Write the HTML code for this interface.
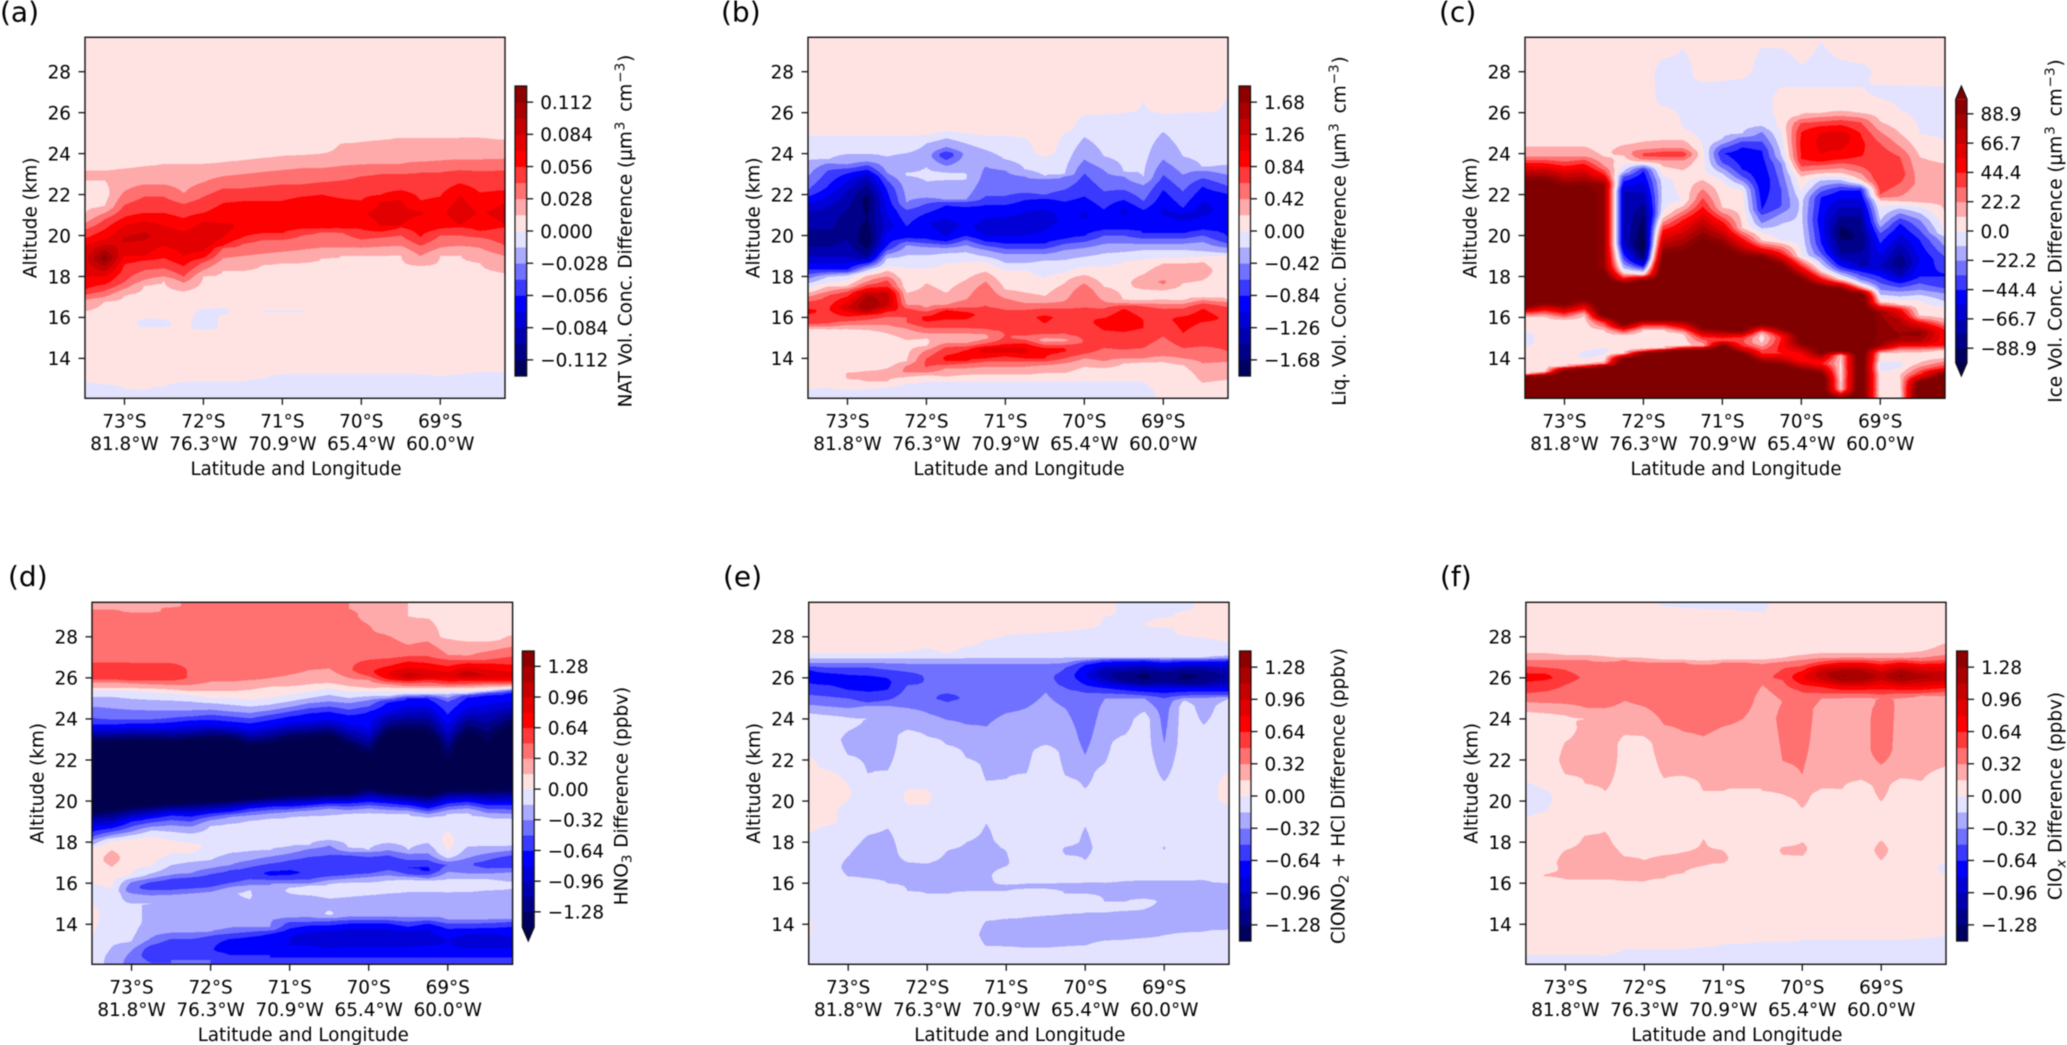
<!DOCTYPE html>
<html lang="en">
<head>
<meta charset="utf-8">
<title>Six-panel altitude and latitude contour difference chart</title>
<style>
html,body{margin:0;padding:0;background:#fff;}
svg{display:block;font-family:"DejaVu Sans","Liberation Sans",sans-serif;fill:#000;filter:blur(0.45px);}
text{font-size:18.4px;}
</style>
</head>
<body>
<svg id="figure" xmlns="http://www.w3.org/2000/svg" width="2067" height="1045" viewBox="0 0 2067 1045">
<rect x="0" y="0" width="2067" height="1045" fill="#ffffff"/>
<g id="panel-a"></g>
<g id="panel-b"></g>
<g id="panel-c"></g>
<g id="panel-d"></g>
<g id="panel-e"></g>
<g id="panel-f"></g>
</svg>
<script>
/* Shared axis values */
const columnLatitudes = [73.5,73.25,73,72.75,72.5,72.25,72,71.75,71.5,71.25,71,70.75,70.5,70.25,70,69.75,69.5,69.25,69,68.75,68.5,68.18];
const latTicks = [73,72,71,70,69];
const lonLabels = ['81.8°W','76.3°W','70.9°W','65.4°W','60.0°W'];
const altTicks = [14,16,18,20,22,24,26,28];

/* Colour-bar tick labels */
const natTicks = ['0.112','0.084','0.056','0.028','0.000','−0.028','−0.056','−0.084','−0.112'];
const liqTicks = ['1.68','1.26','0.84','0.42','0.00','−0.42','−0.84','−1.26','−1.68'];
const iceTicks = ['88.9','66.7','44.4','22.2','0.0','−22.2','−44.4','−66.7','−88.9'];
const ppbvTicks = ['1.28','0.96','0.64','0.32','0.00','−0.32','−0.64','−0.96','−1.28'];

/* Each series: one list per latitude column of altitude,value pairs.
   Values are read from the picture, in units of the panel's contour interval. */
const natProfiles = [
[23.4,.5,23.2,1,23,1.2,22.7,1,22,.6,21,1,20.6,2,20.3,3,19.85,4,19.5,5,18.9,5.7,18,5,17.35,4,17.1,3,16.85,2,16.3,1,16,.5,12.8,0,12,-.6],
[23.4,.5,23.2,1,23,1.2,22.7,1,22,.6,21.4,1,21.1,2,20.8,3,20.3,4,19.8,5,18.9,8.6,18,5,17.6,4,17.3,3,17,2,16.8,1,16,.5,12.7,0,12,-.6],
[23.5,.5,23.3,1,22.15,2,21.5,3,20.9,4,20.5,5,19.8,6.2,19,5,18.6,4,17.7,3,17.4,2,17.1,1,16,.5,12.5,0,12,-.5],
[23.6,.5,23.4,1,22.5,2,21.9,3,21.1,4,20.7,5,20,6.3,19,5,18.8,4,18.3,3,17.8,2,17.6,1,16.2,.4,15.7,-.4,15.3,.4,12.4,0,12,-.5],
[23.7,.5,23.5,1,22.5,2,21.9,3,21.1,4,20.5,5,20,5.5,19.5,5,18.9,4,18.4,3,18,2,17.8,1,16.2,.4,15.7,-.3,15.3,.4,12.6,0,12,-.5],
[23.7,.5,23.5,1,22.05,2,21.55,3,20.85,4,20.2,5,19.8,5.7,19,5,18.5,4,18,3,17.7,2,17.3,1,15.6,.3,12.8,0,12,-.5],
[23.7,.5,23.5,1,22.6,2,21.9,3,21.1,4,20.7,5,19.8,6,19.2,5,18.9,4,18.7,3,18.3,2,18,1,16.6,.4,16.2,-.5,15.5,-.5,15.3,.4,12.85,0,12,-.5],
[23.8,.5,23.6,1,22.9,2,22.3,3,21.6,4,20.6,5,20.4,5.5,19.9,5,19.5,4,19.4,3,18.9,2,18.3,1,16.6,.4,16.35,-.3,16,.2,12.85,0,12,-.5],
[23.9,.5,23.7,1,23,2,22.3,3,21.7,4,20.6,4.9,19.9,4,19.6,3,19,2,18.3,1,16.5,.4,12.85,0,12,-.5],
[24,.5,23.8,1,23.1,2,22.4,3,21.7,4,20.8,4.8,20.1,4,19.8,3,19.1,2,18.6,1,16.5,.4,16.3,-.2,16.1,.4,13,0,12,-.5],
[24.1,.5,23.9,1,23.2,2,22.5,3,21.7,4,21,4.8,20.1,4,19.8,3,19.2,2,18.65,1,16.5,.4,16.3,-.2,16.1,.4,13.2,0,12,-.5],
[24.15,.5,23.95,1,23.3,2,22.5,3,21.9,4,21.2,5.05,20.3,4,20,3,19.3,2,18.7,1,16.5,.4,16.3,-.2,16.1,.4,13.2,0,12,-.5],
[24.2,.5,24,1,23.3,2,22.6,3,22,4,21.1,4.9,20.3,4,20.2,3,19.4,2,18.9,1,16,.4,13.2,0,12,-.5],
[24.7,.5,24.5,1,23.4,2,22.7,3,21.8,4,21.1,4.8,20.3,4,20.15,3,19.4,2,19,1,16,.4,13.2,0,12,-.5],
[24.8,.5,24.6,1,23.45,2,22.9,3,21.7,4,21.1,4.9,20.3,4,19.8,3,19.4,2,19,1,16,.4,13.2,0,12,-.5],
[24.9,.5,24.7,1,23.5,2,23,3,22,4,21.7,5,21,5.4,20.4,5,20.2,4,19.9,3,19.45,2,19.05,1,16,.4,13.2,0,12,-.5],
[25,.5,24.8,1,23.5,2,23,3,22.2,4,21.8,5,21.1,5.3,20.5,5,20.4,4,20,3,19.5,2,19.1,1,16,.4,13.2,0,12,-.5],
[24.95,.5,24.75,1,23.6,2,23.1,3,21.7,4,21.1,5.1,19.9,4,19.5,3,19,2,18.5,1,16,.4,13.2,0,12,-.5],
[24.95,.5,24.75,1,23.65,2,23.1,3,21.9,4,21.1,4.8,20.3,4,20,3,19.4,2,19,1,16,.4,13.1,0,12,-.5],
[25,.5,24.8,1,23.7,2,23.2,3,22.55,4,22,5,21.1,5.7,20.5,5,20.4,4,20,3,19.5,2,19.1,1,16,.4,13.2,0,12,-.5],
[25,.5,24.8,1,23.7,2,23.15,3,22.1,4,21.1,4.9,20.2,4,19.9,3,19.4,2,18.7,1,16,.4,13.3,0,12,-.5],
[24.9,.5,24.7,1,23.75,2,23.2,3,22.2,4,21.6,5,21.1,5.4,20.5,5,20.4,4,19.5,3,19,2,18.2,1,16,.4,13.3,0,12,-.5]
];

const liqProfiles = [
[25.1,.5,24.9,0,23.66,-1,22.88,-2,22.23,-3,21.9,-4,21,-6.5,19.7,-7.5,18.97,-6,18.32,-4,17.67,-1,17.43,0,17.18,1,17.02,2,16.78,3,16.3,4.3,15.64,3,15.47,1,15.3,.4,13,.4,12.5,0,12,-.6],
[25.1,.5,24.9,0,23.69,-1,23.53,-2,23.2,-3,22.39,-4,21.41,-6,19.7,-7.5,18.97,-6,18.32,-4,17.99,-1,17.67,0,17.51,1,17.26,2,17.1,3,16.4,3.9,15.64,3,15.47,1,15.2,.4,13.6,.4,12.55,0,12,-.6],
[25.1,.5,24.9,0,23.98,-1,23.45,-2,23.28,-3,23.04,-4,22.23,-6,20.8,-7.5,19.8,-7,18.97,-6,18.3,-4,18.08,-1,17.83,0,17.51,1,17.43,2,17.26,3,17.02,4,16.5,6,16.04,4,15.8,3,15.47,1,15,.4,13.5,.4,13.35,1,13.2,1.1,12.95,1,12.8,.4,12.45,0,12,-.6],
[25.1,.5,24.9,0,23.98,-1,23.6,-2,23.45,-3,23.2,-4,22.88,-6,21.8,-8.5,20.8,-8,19.7,-9,18.97,-7,18.73,-5,18.65,-4,18.32,-1,18.16,0,18.08,1,17.75,2,17.59,3,17.43,4,17.1,7,16.55,8.2,16.2,6,16.12,4,15.88,3,15.39,1,15.2,.4,13.6,.4,13.4,1,13.1,1.2,12.85,1,12.7,.4,12.5,0,12,-.6],
[25.1,.5,24.9,0,23.85,-1,23.04,-2,22.71,-3,22.23,-4,21.09,-5,20.5,-5.5,19.9,-4.6,19.46,-4,18.89,-1,18.48,0,18.29,1,18,2,17.83,3,17.5,4,17.18,6.5,16.6,6.5,16.29,4,16.04,3,15.23,1,14.9,.4,13.7,.4,13.52,1,13.2,1.3,12.87,1,12.7,.4,12.6,0,12,-.6],
[25.1,.5,24.9,0,24.02,-1,23.5,-1.8,23.2,-1.2,23,-.9,22.5,-1.5,21.57,-2,21.25,-3,20.44,-4,20.2,-4.5,19.87,-4,19.7,-3,19.54,-2,19.05,-1,18.4,0,17.5,.4,17.2,1,16.61,2,16.45,3,16.3,3.7,16,3,15.7,3,15.47,2,14.9,1,14.5,.7,13.85,1,13.68,2,13.4,2.3,13.28,2,13.1,1,12.9,.4,12.8,0,12,-.6],
[25.1,.5,24.9,0,24.5,-1,23.8,-1.4,23.37,-1,23,-.85,22.63,-1,21.82,-2,21.57,-3,21.09,-4,20.6,-5,19.8,-4,19.62,-3,19.46,-2,19.05,-1,18.4,0,18,.5,17.67,1,16.45,2,16.29,3,15.96,4.5,15.47,3,15.23,2,14.99,1,14.8,.8,14.58,1,14.42,2,14,3,13.8,3.2,13.52,3,13.28,2,13.2,1,13,.4,12.87,0,12,-.6],
[25.3,.5,25.1,0,24.75,-1,24.3,-2,24.1,-3,23.95,-4.2,23.7,-3,23.4,-2,23.1,-1,22.9,-.8,22.7,-1,21.74,-2,21.66,-3,21.49,-4,20.84,-5,20.4,-5.6,19.95,-5,19.7,-4,19.55,-3,19.4,-2,19.13,-1,18.65,0,17.18,1,16.61,2,16.45,3,16.37,4,16.2,4.7,15.9,4,15.47,3,15.23,2,14.9,1.5,14.74,2,14.58,3,14.17,4,14,4.2,13.85,4,13.68,3,13.52,2,13.1,1,13,.4,12.87,0,12,-.6],
[25.2,.5,25,0,24.5,-1,24,-1.7,23.3,-1.3,22.95,-.9,22.7,-1,21.74,-2,21.66,-3,21.41,-4,20.5,-4.8,19.95,-4,19.79,-3,19.54,-2,19.2,-1,18.73,0,17.83,1,16.86,2,16.45,3,16.29,4,16.1,4.3,15.9,4,15.47,3,15.23,2,14.9,1.4,14.74,2,14.58,3,14.42,4,14.1,4.4,13.85,4,13.76,3,13.52,2,13.2,1,13,.4,12.87,0,12,-.6],
[25.1,.5,24.9,0,24.18,-1,23.37,-2,21.9,-3,21.49,-4,20.84,-5,20.3,-5.5,20,-5,19.7,-4,19.5,-3,19.3,-2,18.97,-1,18.73,0,18.24,1,17.75,2,17.3,2.7,16.53,3,16.2,3.8,15.39,3,15.23,2,15,1.8,14.8,2.5,14.74,3,14.58,4,14.5,5,14.4,5.6,14.25,5,14,4,13.85,3,13.6,2,13.2,1,13,.4,12.87,0,12,-.6],
[25.1,.5,24.9,0,23.7,-1,23.2,-2,21.9,-3,21.49,-4,20.92,-5,20.4,-5.5,20,-5,19.6,-4,19.35,-3,19.1,-2,18.65,-1,18.32,0,17.7,.6,17.34,1,16.94,2,16.37,3,16.2,3.7,15.07,3,14.66,4,14.58,5,14.4,5.6,14.29,5,14.1,4,13.85,3,13.6,2,13.2,1,13,.4,12.87,0,12,-.6],
[25,.5,24.8,0,23.2,-1,22.88,-2,22.06,-3,21.74,-4,21.17,-5,20.5,-5.6,20,-5,19.6,-4,19.35,-3,19.1,-2,18.65,-1,18.32,0,17.7,.6,17.18,1,16.7,2,16.37,3,16.1,3.7,15.1,3,15,2.5,14.74,4,14.5,5,14.35,5.2,14.2,5,14,4,13.85,3,13.6,2,13.2,1,13,.4,12.87,0,12,-.6],
[24.05,.5,23.85,0,22.88,-1,22.8,-2,21.98,-3,21.82,-4,21,-5.5,20.2,-5,19.6,-4,19.35,-3,19.1,-2,18.81,-1,17.9,0,17.5,.6,17.02,1,16.7,2,16.45,3,16,4.3,15.7,4,15.15,3,14.9,1.4,14.66,3,14.5,4,14.3,4.2,14,4,13.85,3,13.68,2,13.28,1,13,.4,12.87,0,12,-.6],
[25.2,.5,25,0,22.96,-1,22.88,-2,22.23,-3,21.66,-4,20.7,-4.9,19.8,-4,19.6,-3,19.3,-2,18.81,-1,18.16,0,18,.7,17.67,1,16.78,2,16.45,3,16,3.6,15.15,3,14.9,1.6,14.66,3,14.5,4,14.3,4.1,14,3,13.76,2,13.28,1,13,.4,12.87,0,12,-.6],
[26.1,.5,25.9,0,24.8,-1,23.7,-2,23.04,-3,21.9,-4,21,-5.2,19.95,-4,19.7,-3,19.4,-2,18.97,-1,18.48,0,18.08,1,17.67,2,17.3,2.7,16.45,3,16,3.8,15,3.2,14.8,3,14.5,3.6,14.2,3,14,2,13.6,1,13.2,.4,12.87,0,12,-.6],
[26.2,.5,25.97,0,23.85,-1,23.2,-2,22.15,-3,21.25,-4,20.8,-4.6,20.27,-4,20,-3,19.6,-2,19.13,-1,18.48,0,18,.5,17.5,1,16.78,2,16.45,3,15.96,4,15.8,4.5,15.2,3.8,14.5,3,13.85,2,13.52,1,13.2,.4,12.87,0,12,-.6],
[26.2,.5,26,0,23.1,-1,22.88,-2,22.23,-3,21.74,-4,21.2,-5.3,20.27,-4,20,-3,19.6,-2,19.2,-1,18.73,0,18,.6,16.78,1,16.7,2,16.6,3,16.45,4,15.9,4.9,15.3,4,14.4,3,14,2,13.75,1,13.3,.4,12.87,0,12,-.6],
[26.8,.5,26.6,0,22.8,-1,22.47,-2,21.66,-3,21.25,-4,20.9,-4.3,20.1,-4,19.85,-3,19.6,-2,19.3,-1,18.8,0,18.5,.7,18.1,1,17.7,1.6,17.2,.7,16.78,1,16.6,3,15.9,4,15.5,4,14.5,3,14,2,13.85,1,13.4,.4,12.87,0,12,-.2],
[26.2,.5,25.97,0,25.07,-1,23.7,-2,22.96,-3,22.23,-4,21.2,-5.2,20.1,-4,19.85,-3,19.6,-2,19.3,-1,18.9,0,18.65,1,18,1.6,17.7,2.3,17.34,1,17.1,.6,16.85,1,16.65,2,16.45,3,16,3.8,15.07,3,14.1,2,13.85,1,13.3,.4,12.5,.1,12,.1],
[26.2,.5,26,0,23.85,-1,22.96,-2,22.15,-3,21.33,-4,21,-5.5,20.1,-4,19.85,-3,19.6,-2,19.3,-1,18.9,0,18.65,1,18.2,1.5,17.67,1,17.2,.6,16.78,1,16.7,2,16.45,3,16.04,4,15.9,4.4,15.23,4,14.5,3,14,2,13.7,1,13.2,.4,12,.2],
[26.2,.5,26,0,23.3,-1,23.2,-2,22.8,-3,22.39,-4,21.3,-5.5,20.27,-4,20,-3,19.7,-2,19.22,-1,18.97,0,18.73,1,18.3,1.5,17.83,1,17.2,.6,16.94,1,16.86,2,16.7,3,16.45,4,16,4.6,15.8,4,14.58,3,13.76,2,12.8,1,12.4,.5,12,.5],
[27,.5,26.8,0,23.4,-1,22.96,-2,22.4,-3,22.06,-4,21,-4.6,19.87,-4,19.6,-3,19.4,-2,19.13,-1,19.05,0,18,.4,16.85,1,16.75,2,16.53,3,15.9,3.8,14.34,3,13.85,2,12.95,1,12.6,.5,12,.4]
];

const iceProfiles = [
[24.55,.5,24.35,1,23.85,2,23.69,3,23.53,4,22.7,9,22.2,11,17,11,16.5,9,16.25,4,16.05,1,15.8,.5,15.35,.3,15.2,-.4,14.7,-.4,14.5,.3,13.3,.4,13.2,1,13.11,9,13,11,12,11],
[24.55,.5,24.35,1,23.85,2,23.69,3,23.53,4,22.75,9,22.3,11,17.3,11,16.7,9,16.35,4,16.04,1,15.8,.5,13.4,.5,13.28,1,13.2,9,13.1,11,12,11],
[24.55,.5,24.35,1,23.85,2,23.6,3,23.4,4,22.4,9,22,11,17.3,11,16.6,9,16.2,4,15.88,1,15.6,.5,13.8,.5,13.6,1,13.44,9,13.3,11,12,11],
[24.55,.5,24.35,1,23.85,2,23.7,3,23.5,4,22.47,9,22,11,17.5,11,16.86,9,16.4,4,16.12,1,15.8,.5,14.6,.3,14.1,-.3,13.9,.3,13.68,1,13.52,9,13.35,11,12,11],
[24.2,.5,23.85,1,23.4,2,23,4,22.5,8,18.5,8,17.8,11,16.2,11,16.04,9,15.8,4,15.39,1,15.1,.5,14.6,.3,14.4,-.3,14,.3,13.77,1,13.6,9,13.4,11,12,11],
[24.6,.5,24.42,1,24.1,1.7,23.93,1,23.6,.5,23.12,-1,22.88,-3,22.2,-6,19.6,-6,18.81,-3,18.4,-1,18.24,0,17.91,4,17.67,9,17.3,11,15.9,11,15.64,9,15.39,4,15.15,1,15,.5,14.5,.3,14.25,1,14.01,9,13.8,11,12,11],
[24.8,.5,24.59,1,24.18,2,24.02,3,23.97,3.2,23.85,3,23.69,2,23.6,1,23.55,0,23.45,-1,23.2,-4,21,-8,19.5,-9.5,18.9,-8,18.48,-4,18.24,-1,18.13,0,18.08,1,17.83,9,17.5,11,16.2,11,15.88,9,15.64,4,15.39,1,15.2,.5,14.6,.5,14.42,1,14.25,9,14,11,12,11],
[28.9,.3,28.65,0,28,-.4,26.6,-.3,26.3,0,25.8,.4,24.85,.5,24.67,1,24.26,2,24.1,3,23.97,3.7,23.83,3,23.7,2,23.37,1,23,.3,22.7,-.5,21.9,-.6,21.1,0,20.85,1,20.27,4,19.13,9,18.6,11,16.2,11,15.88,9,15.64,4,15.39,1,15.2,.5,14.7,.5,14.5,1,14.34,9,14.1,11,12,11],
[29.4,.3,29.14,0,28,-.4,25.24,0,24.9,.4,24.67,1,24.26,2,24.1,3,23.97,3.8,23.83,3,23.69,2,23.2,1,22.7,.5,22,.2,21.74,0,21.41,1,20.76,4,19.22,9,18.7,11,16.2,11,15.88,9,15.47,4,15.23,1,15.05,.5,14.7,.5,14.58,1,14.42,9,14.2,11,12,11],
[27.8,.4,27.5,0,26,-.4,25,-.3,24.35,0,24,.3,23.1,.3,22.7,1,21.41,4,19.87,9,19.3,11,16.2,11,15.47,9,15.07,4,14.6,1,14.45,9,14.2,11,12,11],
[27.9,.4,27.6,0,26,-.4,24.67,-1,24.26,-3,24.02,-4,23.53,-3,23.04,-1,22.71,0,22.3,.4,21.9,.6,21.33,1,20.68,4,19.54,9,19,11,16,11,15.39,9,14.99,4,14.85,3.5,14.66,9,14.4,11,12,11],
[28,.4,27.7,0,26,-.4,24.91,-1,24.83,-2,24.6,-3,24.34,-4,23.85,-4.6,23.2,-4,22.88,-3,22.47,-1,22.23,0,21.5,.5,20.35,1,19.87,4,19,9,18.6,11,16,11,15.31,9,15.07,4,14.82,3,14.58,4,14.25,9,14,11,12,11],
[29.5,.3,29.2,0,28,-.4,27,-.3,26,-.4,25.32,-1,25.07,-2,24.59,-3,24.18,-4,22.71,-5,21.25,-4,21,-3,20.6,-2,20.35,-1,20.11,0,19.75,1,19.38,4,18.97,9,18.6,11,16.5,11,15.64,9,15.23,1,14.99,.5,14.74,1,14.25,4,13.77,9,13.5,11,12,11],
[29.5,.3,29.14,0,28.5,-.4,27.24,0,26.62,.3,25.3,.3,25,0,23.85,-1,23.53,-2,22.23,-3,21.41,-3,21.09,-2,20.6,-1,20.11,-.5,19.7,0,19.62,1,19.13,4,18.57,9,18.2,11,16.5,11,15.47,9,15.07,4,14.6,4.5,14.25,4,13.68,9,13.4,11,12,11],
[29,.3,28.33,0,28,-.4,27.24,0,26.62,.4,25.89,1,25.5,3,25.07,4,24.5,4.3,23.69,4,23.37,3,22.88,1,22.14,0,21.74,-.7,20.92,-.8,20.44,-.7,19.8,-.4,18.97,0,18.89,1,18.48,4,17.91,9,17.5,11,15.4,11,14.74,9,14.25,5,13.93,4,13.44,9,13.2,11,12,11],
[29.8,.3,29.47,0,28,-.4,27.24,0,26.6,.4,25.97,1,25.8,2,25.56,3,25.35,4,25.07,5,24.6,5.3,23.93,5,23.6,4,23.45,3,23.2,2,23.04,1,22.88,0,22.71,-1,22.39,-2,22.14,-3,21.9,-4,20.76,-4.7,19.62,-4,19.13,-3,18.89,-2,18.65,-1,18.4,0,18.24,1,17.91,4,17.51,9,17.1,11,14.9,11,14.25,9,14.09,7,13.77,4,13.28,9,13,11,12,11],
[29.2,.3,28.57,0,28,-.4,27.24,0,26.6,.4,26.05,1,25.64,3,25.4,4,25.07,5,24.91,6,24.18,5,23.69,4,23.53,3,23.04,1,22.88,0,22.71,-1,22.23,-4,21.41,-6,20.44,-8,20.11,-8.5,19.13,-7,18.65,-5,18.32,-3,18.08,-1,17.95,0,17.83,1,17.43,9,17.1,11,14.9,11,14.34,9,14.17,1,13.28,.5,12.46,1,12.06,9],
[28.8,.3,28.41,0,28,-.4,27.24,0,26.6,.4,25.97,1,25.56,3,24.99,4,24.5,4.3,23.85,4,23.37,3,22.71,1,22.58,0,22.5,-1,22.23,-4,20.92,-7,19.79,-8,18.48,-6,18.24,-4,17.83,-2,17.59,0,17.35,4,17.21,9,17,11,12,11],
[27.6,.3,27.35,0,27,-.3,26.7,0,26.2,.4,25.55,1,25.07,2,24.5,3,23.69,4,22.7,4,22,3,21.82,2,21.74,1,21.41,0,20.7,-1,20.11,-3,19.62,-4,18.48,-6,17.99,-4,17.35,-2,17.1,-1,16.94,0,16.73,1,16.3,8,15.56,8.6,15.2,8.6,14.58,8,14.42,4,14.25,1,13.9,.3,13.7,-.4,13.5,-.4,13.2,.3,12,.3],
[27.6,.3,27.35,0,27,-.3,26.13,0,25.6,.3,24.99,1,24.34,2,23.85,3,23,3.6,22.55,3,21.9,2,21.66,1,21.49,0,21.33,-1,21.09,-2,20.84,-3,20.6,-4,19.62,-6,18.65,-8,18,-6,17.67,-4,17.26,-2,17.02,-1,16.86,0,16.61,1,16.45,4,15.88,7,15.23,8,14.9,8,14.58,4,14.34,1,14,.3,13.7,-.3,13.4,.3,13.2,1,12.3,.5],
[27.6,.3,27.3,0,27,-.3,24.91,0,23.85,1,22.55,1.7,21.58,1,21.41,0,21.09,-1,20.76,-2,20.27,-3,19.79,-4,18.81,-5,17.99,-4,17.67,-3,17.35,-2,17.1,-1,16.86,0,16.4,.4,16.04,1,15.8,4,15.47,7,15.23,8.5,14.82,7,14.58,4,14.34,1,14.09,.4,13.77,1,13.2,4,12.87,9,12.5,11,12,11],
[27.6,.3,27.28,0,27,-.3,24.5,0,23.53,1,22.4,1.5,21.09,1,20.11,0,19.95,-1,18.97,-3,18.16,-4,17.67,-4,17.18,-2,16.78,-1,16.53,0,15.88,1,15.4,4,15,4.3,14.58,4,14.42,1,14.25,.5,14.01,1,13.52,4,13.28,9,13,11,12,11]
];

const hno3Profiles = [
[29.4,1.5,29.3,2.5,27,2.7,26.75,3,26.7,3.6,25.95,3.6,25.9,3,25.82,2,25.5,1,25.42,0,25.09,-1,24.6,-2,24.03,-3,23.71,-4,23.55,-5,22.9,-9,22.4,-11,20,-11,19.48,-9,19,-6,18.51,-4,18.26,-3,18.1,-2,17.86,-1,17.77,0,17,.4,16,0,15.5,-.4,15,0,14.5,.4,13.4,0,12.5,-.4,12,-.6],
[29.4,1.5,29.3,2.5,27,2.7,26.75,3,26.7,3.6,25.95,3.6,25.9,3,25.82,2,25.5,1,25.42,0,25.09,-1,24.52,-2,23.95,-3,23.71,-4,23.55,-5,22.9,-9,22.4,-11,20,-11,19.56,-9,18.67,-4,18.18,-1,18.1,0,17.9,.5,17.61,1,17.2,1.6,16.8,1,16.2,.3,15.74,0,15,-.6,13.5,-.6,12.9,-1,12.4,-1.3],
[29.25,1.5,29.2,2.5,26.9,2.7,26.72,3,26.5,3.6,26,3.6,25.86,3,25.74,2,25.5,1,25.37,0,24.98,-1,24.44,-2,23.95,-3,23.79,-4,23.58,-5,22.98,-9,22.4,-11,20,-11,19.73,-9,19,-4,18.51,-2,18.34,-1,18.18,0,17.5,.4,16.39,0,16.23,-1,16.07,-2,15.66,-3,15.5,-2,15,-1,14.1,-.5,13.14,-1,12.73,-2,12.17,-2.5],
[29.25,1.5,29.2,2.5,28.55,2.5,28.42,3.3,28.3,2.5,26.9,2.7,26.72,3,26.5,3.6,26,3.6,25.86,3,25.69,2,25.47,1,25.34,0,24.93,-1,24.41,-2,23.95,-3,23.79,-4,23.55,-5,22.98,-9,22.4,-11,20,-11,19.81,-9,19.16,-4,18.75,-2,18.59,-1,18.26,0,18,.5,17.61,1,17.5,.8,17.3,.4,16.8,0,16.47,-1,16.23,-2,16.07,-3,15.87,-3.7,15.66,-3,15.42,-2,15,-1,14,-1.5,13.3,-2,12.98,-3,12.82,-3.6,12.5,-3.8,12.17,-3],
[29.45,1.5,29.4,2.5,26.9,2.7,26.72,3,26.5,3.4,26,3.4,25.86,3,25.66,2,25.42,1,25.25,0,24.9,-1,24.41,-2,24.03,-3,23.84,-4,23.58,-5,22.9,-9,22.4,-11,20.1,-11,19.89,-9,19.32,-4,18.83,-2,18.51,-1,18.1,0,17.8,.4,17.45,0,16.88,-1,16.39,-2,16.23,-3,15.95,-3.8,15.66,-3,15.45,-2,15.09,-1,14,-1.5,13.55,-2,13.3,-3,13.05,-3.6,12.7,-3.9,12.25,-3],
[27,2.5,26.4,2.9,25.9,2.9,25.66,2,25.34,1,25.17,0,24.85,-1,24.41,-2,24.12,-3,23.95,-4,23.63,-5,22.98,-9,22.4,-11,20.2,-11,19.97,-9,19.24,-4,18.75,-2,18.42,-1,17.94,0,17.7,.4,17.45,0,17.04,-1,16.47,-2,16.31,-3,15.95,-3.8,15.9,-3.9,15.74,-3,15.5,-2,15.12,-1,14,-1.5,13.55,-2,13.3,-3,12.98,-3.6,12.7,-3.9,12.25,-3],
[28.55,2.5,28.42,3.3,28.3,2.5,26,2.5,25.82,2,25.34,1,25.01,0,24.77,-1,24.44,-2,24.2,-3,23.95,-4,23.71,-5,23.06,-9,22.5,-11,20.2,-11,19.97,-9,19.4,-4,19.08,-2,18.83,-1,18.2,-.5,17.94,0,17.6,-.5,17.12,-1,16.72,-2,16.47,-3,16.15,-3.5,15.99,-3.9,15.82,-3,15.58,-2,15.33,-1,14,-1.5,13.63,-2,13.47,-3,13.14,-3.6,12.7,-3.9,12.33,-3],
[28.55,2.5,28.42,3.3,28.3,2.5,26,2.5,25.82,2,25.34,1,25.01,0,24.69,-1,24.36,-2,24.12,-3,23.87,-4,23.63,-5,23.06,-9,22.5,-11,20.3,-11,20.05,-9,19.48,-4,19.24,-2,18.91,-1,18.2,-.4,17.45,-1,16.88,-2,16.64,-3,16.31,-3.5,16.2,-3.9,15.82,-2,15.58,-1,14.5,-1.5,13.79,-2,13.55,-3,13.3,-4,12.82,-5,12.57,-4],
[26,2.5,25.9,2,25.42,1,24.93,0,24.6,-1,24.28,-2,24.03,-3,23.79,-4,23.47,-5,22.73,-9,22.2,-11,20.4,-11,20.13,-9,19.64,-4,19.32,-2,19.08,-1,18.4,-.4,17.53,-1,17.12,-2,16.8,-3,16.47,-3.5,16.3,-3.9,16.23,-3,15.9,-2,15.74,-1,15.4,-.9,15.2,-1,14.5,-1.6,13.87,-2,13.63,-3,13.38,-4,12.9,-5,12.57,-4],
[28.55,2.5,28.42,3.3,28.3,2.5,26.2,2.5,25.99,2,25.58,1,25.01,0,24.69,-1,24.41,-2,24.2,-3,23.95,-4,23.63,-5,22.82,-9,22.3,-11,20.5,-11,20.21,-9,19.73,-4,19.4,-2,19.16,-1,18.5,-.4,17.61,-1,17.29,-2,16.96,-3,16.72,-3.6,16.44,-4.4,16.31,-3.6,16.15,-3,15.99,-2,15,-1.7,13.79,-2,13.7,-3,13.55,-4,12.98,-5,12.57,-4],
[28.55,2.5,28.42,3.3,28.3,2.5,26.4,2.5,26.15,2,25.58,1,25.17,0,24.85,-1,24.57,-2,24.36,-3,24.12,-4,23.79,-5,23.06,-9,22.5,-11,20.6,-11,20.3,-9,19.73,-4,19.48,-2,19.24,-1,18.5,-.4,17.77,-1,17.45,-2,17.12,-3,16.8,-3.6,16.47,-4.4,16.31,-3.6,16.15,-3,15.99,-2,15.82,-1,15.6,-.7,15.5,-1,14.28,-2,14.12,-3,13.79,-4,13.47,-5,12.98,-5,12.49,-4],
[28.55,2.5,28.42,3.3,28.3,2.5,26.6,2.5,26.39,2,25.66,1,25.34,0,25.01,-1,24.77,-2,24.52,-3,24.28,-4,23.87,-5,23.14,-9,22.6,-11,20.6,-11,20.3,-9,19.81,-4,19.56,-2,19.29,-1,18.5,-.4,17.86,-1,17.69,-2,17.29,-3,16.96,-3.5,16.6,-3.9,16.15,-3,15.99,-2,15.9,-1,15.6,-.6,15.42,-1,14.8,-1.7,14.28,-2,14.12,-3,13.95,-4,13.63,-5,13.2,-5.5,12.49,-4],
[28.55,2.5,28.42,3.3,28.3,2.5,26.7,2.5,26.47,2,25.74,1,25.5,0,25.17,-1,24.85,-2,24.6,-3,24.36,-4,23.95,-5,23.22,-9,22.7,-11,20.7,-11,20.38,-9,19.89,-4,19.64,-2,19.35,-1,18.5,-.4,18.1,-1,17.86,-2,17.37,-3,17.04,-3.5,16.6,-3.9,16.31,-3,16.15,-2,15.99,-1,15.6,-.6,15.25,-1,14.9,-1.6,14.68,-1,14.52,-.7,14.41,-1,14.31,-2,14.15,-3,13.95,-4,13.71,-5,13.2,-5.6,12.82,-5,12.46,-4],
[29.3,2,29.2,2.4,26.4,2.9,25.99,2,25.58,1,25.34,0,25.01,-1,24.77,-2,24.44,-3,24.2,-4,23.71,-5,22.73,-9,22.2,-11,20.7,-11,20.38,-9,19.89,-4,19.4,-1,18.5,-.4,17.69,-1,17.53,-2,17.37,-3,17.12,-3.5,16.7,-3.9,16.39,-3,16.23,-2,16.07,-1,15.7,-.6,15.33,-1,14.36,-2,14.2,-3,14.04,-4,13.79,-5,13.2,-5.6,12.9,-5,12.46,-4],
[29,1.5,28.6,2,27,2.8,26.88,3,26.3,3.8,26.07,3,25.9,2,25.5,1,25.34,0,25.09,-1,24.93,-2,24.6,-3,24.36,-4,23.47,-5,22.25,-9,21.8,-11,20.9,-11,20.62,-9,19.97,-4,19.48,-1,18.5,-.4,17.61,-1,17.53,-2,17.29,-3,17.04,-3.5,16.7,-3.9,16.47,-3,16.31,-2,16.07,-1,15.7,-.6,15.42,-1,14.36,-2,14.2,-3,14.04,-4,13.79,-5,13.2,-5.6,12.9,-5,12.46,-4],
[28.3,1.5,28.1,2,27.1,2.5,26.96,3,26.56,4,26.3,5,26.1,5,25.9,4,25.82,3,25.69,2,25.53,1,25.34,0,25.09,-1,25.01,-2,24.93,-3,24.85,-4,24.36,-5,23.38,-9,22.9,-11,20.8,-11,20.46,-9,19.89,-4,19.4,-1,18.5,-.4,17.94,-1,17.61,-2,17.37,-3,17.12,-3.5,16.9,-3.9,16.64,-3,16.39,-2,16.15,-1,15.8,-.6,15.5,-1,14.36,-2,14.2,-3,14.04,-4,13.79,-5,13.2,-5.6,12.9,-5,12.46,-4],
[29,1,27.6,2,27.04,3,26.8,4,26.5,5,26.07,6.8,25.9,5,25.86,4,25.74,3,25.58,2,25.5,1,25.34,0,25.2,-1,25.14,-2,25.08,-3,25.01,-4,24.6,-5,23.47,-9,23,-11,20.7,-11,20.38,-9,19.81,-4,19.4,-1,18.5,-.4,17.61,-1,17.45,-2,17.12,-3,16.96,-3.6,16.8,-4.2,16.64,-3.6,16.39,-3,16.31,-2,16.23,-1,15.9,-.6,15.58,-1,14.28,-2,14.12,-3,13.87,-4,13.71,-5,13.2,-5.6,12.9,-5,12.46,-4],
[29.1,.6,28.9,1,27.77,2,27.04,3,26.72,4,26.1,6,25.9,4,25.8,3,25.6,2,25.5,1,25.34,0,25.2,-1,25.1,-3,25,-4,24.6,-5,23.4,-9,23,-11,20.6,-11,20.3,-9,19.64,-4,19.24,-1,18.5,-.4,17.94,-1,17.45,-2,17.12,-3,16.96,-3.6,16.64,-4.3,16.39,-3,16.23,-2,16.15,-1,15.9,-.6,15.58,-1,14.31,-2,14.2,-3,14.04,-4,13.79,-5,13.2,-5.5,12.98,-5,12.46,-4],
[28,.5,27.94,1,27.12,2,26.88,3,26.56,4,26.1,5.5,25.82,4,25.69,3,25.58,2,25.5,1,25.34,0,25.2,-1,24.85,-3,24.2,-4,23.71,-5,22.08,-9,21.6,-11,20.9,-11,20.54,-9,19.89,-4,19.4,-1,18.6,-.5,18.5,0,18.1,.4,17.45,0,17.2,-1,17.04,-2,16.88,-3,16.55,-2,16.23,-1,15.9,-.5,15.58,-1,14.2,-2,14.04,-3,13.79,-4,13.3,-5,12.8,-4.9,12.46,-4],
[27.9,.5,27.81,1,27.04,2,26.88,3,26.72,4,26.15,7,25.85,4,25.7,3,25.6,2,25.5,1,25.34,0,25.25,-1,25.17,-3,25.09,-4,24.52,-5,23.38,-9,22.9,-11,20.9,-11,20.54,-9,19.97,-4,19.48,-1,18.5,-.5,17.77,-1,17.21,-2,16.96,-3,16.47,-2,16.23,-1,15.9,-.6,15.58,-1,14.2,-2,14.04,-3,13.79,-4,13.55,-5,13.14,-5.4,12.82,-5,12.46,-4],
[27.85,.5,27.77,1,27.29,2,26.88,3,26.72,4,26.1,6,25.85,4,25.75,3,25.65,2,25.55,1,25.42,0,25.34,-1,25.25,-3,25.17,-4,24.69,-5,22.9,-9,22.4,-11,20.9,-11,20.54,-9,19.81,-4,19.24,-1,18.5,-.5,17.77,-1,17.45,-2,17.12,-3,16.88,-3.5,16.72,-3,16.47,-2,16.23,-1,15.9,-.6,15.66,-1,14.2,-2,14.08,-3,13.82,-4,13.55,-5,13.14,-5.5,12.82,-5,12.46,-4],
[28.2,.5,28.1,1,27.53,2,27.04,3,26.64,4,26.1,5.5,25.85,4,25.75,3,25.65,2,25.6,1,25.5,0,25.47,-1,25.37,-3,25.3,-4,24.85,-5,23.71,-9,23.2,-11,21,-11,20.62,-9,19.81,-4,19.16,-1,18.5,-.5,17.77,-1,17.6,-2,17.37,-3,17.12,-4,16.72,-3,16.55,-2,16.07,-1,15.9,-.7,15.74,-1,14.2,-2,14.12,-3,13.87,-4,13.47,-5,12.73,-5,12.41,-4]
];

const clonoProfiles = [
[27.4,.4,27.2,0,26.93,-1,26.72,-2,26.56,-3,26.39,-4,25.99,-4.8,25.74,-4,25.17,-3,24.69,-2,24.28,-1,23.9,-.5,22.5,-.3,22.25,0,21.7,.4,18.8,.4,18.42,0,18,-.4,14.4,-.4,14.2,.1,13.5,.1,13.3,-.3,12,-.4],
[27.4,.4,27.2,0,26.93,-1,26.72,-2,26.5,-3,26.22,-4,25.99,-5.1,25.66,-4,25.09,-3,24.6,-2,24.2,-1,23.8,-.5,21.7,-.5,21.5,0,21.1,.4,19,.4,18.83,0,18.5,-.5,12,-.5],
[27.4,.4,27.2,0,26.93,-1,26.72,-2,26.5,-3,26.15,-4,25.9,-4.7,25.4,-4,25,-3,24.52,-2,24.1,-1,23.8,-.8,23.4,-1,23,-1.3,22.25,-1,21.8,-.5,20.8,0,20.4,.1,20,0,19.5,-.5,18.5,-.5,17.3,-1,16.8,-1.3,16.3,-1,16,-.5,12,-.5],
[27.4,.4,27.2,0,26.93,-1,26.72,-2,26.5,-3,26.1,-4,25.9,-4.6,25.3,-4,24.77,-3,24.65,-2,24,-1,23,-1.4,21.3,-1,20.9,-.5,19,-.5,18.34,-1,17.5,-1.4,16.2,-1,15.9,-.5,12,-.5],
[27.4,.4,27.2,0,26.93,-1,26.72,-2,26.4,-3,25.99,-4,25.7,-4.2,25.4,-4,24.9,-3,24.65,-2,24,-1.6,23,-1.5,21.5,-1,21.1,-.5,19.3,-.5,18.67,-1,17.5,-1.5,15.99,-1,15.7,-.5,12,-.5],
[27.5,.4,27.28,0,26.93,-1,26.7,-2,26.3,-3,25.9,-3.6,25.66,-3,24.52,-2,24.2,-1.5,23.45,-1,23.2,-.5,20.9,-.5,20.6,0,20.2,.15,19.8,0,19.5,-.5,17.5,-.5,17.04,-1,16.5,-1.2,15.62,-1,15.3,-.5,12,-.5],
[27.7,.4,27.45,0,26.93,-1,26.7,-2,26.2,-2.9,25.5,-2.9,24.28,-2,23.9,-1.5,23.14,-1,22.9,-.5,20.9,-.5,20.6,0,20.2,.15,19.8,0,19.5,-.5,17.6,-.5,16.96,-1,16.3,-1.4,15.5,-1,15.2,-.5,12,-.5],
[27.4,.4,27.2,0,26.93,-1,26.7,-2,26.2,-2.9,25.4,-2.9,25.25,-3,25,-3.6,24.85,-3,23.95,-2,23.5,-1.5,22.73,-1,22.4,-.5,18,-.5,17.6,-1,16.5,-1.3,15.45,-1,15.1,-.5,12,-.5],
[27.7,.4,27.53,0,26.93,-1,26.7,-2,26.2,-2.7,25,-2.7,23.71,-2,23.3,-1.5,22.08,-1,21.7,-.5,18.5,-.5,18,-1,17,-1.5,15.58,-1,15.3,-.5,12,-.5],
[28.1,.4,27.86,0,26.93,-1,26.7,-2,26.2,-2.7,25,-2.7,23.63,-2,23,-1.5,20.94,-1,20.6,-.5,19.2,-.5,18.9,-1,17.8,-1.4,16.5,-1.2,15.58,-1,15.3,-.5,14.5,-.5,14.2,-1,13.5,-1.3,12.9,-1,12.6,-.5,12,-.5],
[28.3,.4,28.1,0,26.93,-1,26.7,-2,26.2,-2.8,25.4,-2.8,24.28,-2,23.6,-1.5,21.02,-1,20.7,-.5,18.1,-.5,17.6,-1,17,-1.1,16.8,-1,16.4,-.5,16,-.9,15.99,-1,15.8,-1.1,15.62,-1,15.3,-.5,14.6,-.5,14.28,-1,13.6,-1.4,12.9,-1,12.6,-.5,12,-.5],
[28.4,.4,28.18,0,26.93,-1,26.7,-2,26.2,-2.8,25.4,-2.8,24.52,-2,23.5,-1.5,21.3,-1,21,-.5,16.3,-.5,15.99,-1,15.8,-1.1,15.74,-1,15.4,-.5,14.7,-.5,14.36,-1,13.6,-1.4,12.85,-1,12.5,-.5,12,-.5],
[28.45,.4,28.23,0,26.93,-1,26.7,-2,26.2,-2.8,25.6,-2.8,25.3,-2,24.5,-1.5,22.73,-1,22.4,-.5,16.3,-.5,15.99,-1,15.8,-1.1,15.74,-1,15.4,-.5,14.8,-.5,14.45,-1,13.6,-1.4,12.85,-1,12.5,-.5,12,-.5],
[28.5,.4,28.3,0,26.93,-1,26.72,-2,26.5,-3,26,-3.3,25.5,-3,24.52,-2,23.5,-1.5,21.2,-1,20.9,-.5,18,-.5,17.8,-1,17.6,-1.1,17.37,-1,17.2,-.5,16.3,-.5,16.02,-1,15.8,-1.1,15.45,-1,15.1,-.5,14.8,-.5,14.5,-1,13.6,-1.4,12.9,-1,12.6,-.5,12,-.5],
[28.6,.4,28.4,0,27,-1,26.88,-2,26.8,-3,26.64,-4,26.15,-5,25.66,-4,25.34,-3,23,-2.3,22.25,-2,21.5,-1.5,20.62,-1,20.3,-.5,19,-.5,18.75,-1,17.7,-1.3,17.12,-1,16.8,-.5,16.5,-.5,16.07,-1,15.8,-1.1,15.5,-1,15.2,-.5,14.9,-.5,14.6,-1,13.6,-1.4,12.95,-1,12.6,-.5,12,-.5],
[29.2,.4,28.99,0,28,-.3,27.2,-.4,26.98,-1,26.96,-2,26.88,-3,26.8,-4,26.6,-5,26.47,-6,26.22,-7,25.9,-6,25.66,-5,25.5,-4,25.25,-3,25,-2,24.5,-1.7,21.84,-1,21.4,-.5,16.5,-.5,16.02,-1,15.8,-1.2,15.08,-1,14.9,-.7,14.6,-1,13.6,-1.4,13.2,-1,12.8,-.5,12,-.5],
[30,-.3,27.2,-.4,27,-1,26.9,-3,26.7,-5,26.3,-7,26.07,-7.8,25.8,-7,25.6,-5,25.2,-3,25.04,-2,24.5,-1.7,23.22,-1,22.8,-.5,16.5,-.5,16.1,-1,15.8,-1.3,15.06,-1,14.9,-.7,14.68,-1,13.6,-1.4,13.25,-1,12.9,-.5,12,-.5],
[28.9,-.3,28.6,.1,28.4,-.3,27.2,-.4,27,-1,26.9,-3,26.72,-5,26.4,-7,26.07,-8.5,25.7,-7,25.5,-5,25.14,-3,25,-2,24.8,-1.7,24.36,-1,24,-.5,16.5,-.5,16.15,-1,15.8,-1.3,15.25,-1,15.1,-.7,14.74,-1,13.6,-1.4,13.33,-1,13,-.5,12,-.5],
[29.0,-.3,28.9,.3,28.5,.3,28.4,-.3,27.2,-.4,27,-1,26.85,-3,26.64,-5,26.3,-7,26.07,-7.5,25.8,-7,25.5,-5,25.01,-3,24.5,-2.5,22.8,-2,22,-1.5,20.94,-1,20.5,-.5,18.2,-.5,17.7,-1.1,17.2,-.5,16.5,-.5,16.15,-1,15.8,-1.3,15.5,-1.05,14.5,-1.3,13.42,-1,13.1,-.5,12,-.5],
[29.4,-.3,29.1,.3,28.2,.3,27.9,-.3,27.2,-.4,27,-1,26.88,-3,26.7,-5,26.4,-7,26.07,-8.5,25.7,-7,25.5,-5,25.14,-3,25.01,-2,24.93,-1,24.6,-.5,16.5,-.5,16.15,-1,15,-1.4,13.55,-1,13.2,-.5,12,-.5],
[28.1,.3,27.8,-.3,27.2,-.4,27,-1,26.88,-3,26.7,-5,26.4,-7,26.07,-8,25.7,-7,25.5,-5,25.17,-3,25.04,-2,24.8,-1.5,23.7,-1,23.4,-.5,16.6,-.5,16.2,-1,15,-1.4,13.63,-1,13.3,-.5,12,-.5],
[27.9,.3,27.6,-.3,27.2,-.4,27.05,-1,26.9,-3,26.72,-5,26.07,-7,25.5,-5,25.17,-3,25.04,-2,25,-1,24.6,-.5,21.7,-.5,21.4,0,20.8,.4,20.1,.4,19.8,0,19.5,-.5,16.3,-.5,16,-1,15,-1.4,13.71,-1,13.4,-.5,12,-.5]
];

const cloxProfiles = [
[27.4,.5,27.2,1,26.88,2,26.56,3,26.22,4,26.07,4.7,25.82,4,25.25,3,24.82,2,24.36,1,24,.5,21.3,.3,20.94,0,20.6,-.4,19.6,-.4,19.16,0,18.8,.5,12.8,.5,12.52,0,12,-.4],
[27.4,.5,27.2,1,26.88,2,26.5,3,26.22,4,26,4.4,25.9,4,25.34,3,24.77,2,24.28,1,23.9,.5,20.8,.3,20.54,0,20.2,-.3,19.48,0,19.2,.5,16.7,.5,16.47,1,16.4,1.1,16.31,1,16.1,.5,12.8,.5,12.52,0,12,-.4],
[27.3,.5,27.12,1,26.88,2,26.39,3,26.1,3.4,25.66,3,24.72,2,24.2,1,23.6,.7,22.9,1,22,1.3,21.27,1,20.9,.5,18,.5,17.61,1,17,1.4,16.15,1,15.9,.5,12.8,.5,12.52,0,12,-.4],
[27.3,.5,27.12,1,26.88,2,26,2.9,24.52,2,24,1,23.8,1.2,22,1.2,20.8,1,20.5,.5,18.8,.5,18.34,1,17.3,1.5,16.15,1,15.9,.5,12.8,.5,12.52,0,12,-.4],
[29.7,-.1,29.6,.5,27.2,.5,27.04,1,26.8,2,26.3,2.9,25.4,2.9,24.52,2,24,1.6,22,1.5,20.46,1,20.2,.5,19.2,.5,18.51,1,17.3,1.5,16.15,1,15.9,.5,12.8,.5,12.49,0,12,-.4],
[29.7,-.2,29.6,.5,27.1,.5,26.96,1,26.88,2,26,2.9,24.88,2,24,1.5,23.22,1,22.8,.7,19,.7,18,.6,17.29,1,17,1.3,16.07,1,15.8,.5,13.1,.5,12.82,0,12,-.4],
[29.7,-.2,29.6,.5,27.1,.5,26.96,1,26.8,2,26,2.9,24.6,2,24,1.4,23.14,1,22.8,.7,18,.7,17.12,1,16.7,1.3,16.04,1,15.8,.5,13.1,.5,12.85,0,12,-.4],
[29.7,-.3,29.48,0,29.2,.5,27,.5,26.88,1,26.76,2,26,2.9,25.3,2.9,23.71,2,23,1.5,22,1.2,21.1,1,20.8,.5,17.9,.5,17.37,1,16.8,1.3,16.23,1,16,.5,13.1,.5,12.82,0,12,-.4],
[29.7,-.3,29.4,0,29.1,.5,27,.5,26.88,1,26.76,2,26,2.9,25.6,2.9,23.38,2,22.5,1.5,21.19,1,20.9,.5,17.9,.5,17.53,1,17,1.2,16.47,1,16.2,.5,13.1,.5,12.85,0,12,-.4],
[29.7,-.3,29.35,0,29.1,.5,27,.5,26.8,1,26.67,2,26,2.9,25.5,2.9,23.14,2,22,1.5,20.46,1,20.2,.5,18.4,.5,18.18,1,17.5,1.2,16.8,1,16.5,.5,13.2,.5,12.9,0,12,-.4],
[29.7,-.3,29.32,0,29.1,.5,27,.5,26.88,1,26.76,2,26.2,2.9,25.5,2.9,23.63,2,22.5,1.5,20.49,1,20.2,.5,17.9,.5,17.61,1,17.2,1.2,16.96,1,16.7,.5,13.3,.5,13.06,0,12,-.4],
[29.7,-.3,29.24,0,29,.5,27,.5,26.88,1,26.76,2,26.2,2.9,25.7,2.9,25,2.7,24.03,2,22,1.5,20.62,1,20.3,.5,13.4,.5,13.1,0,12,-.4],
[29.7,-.3,29.16,0,28.9,.5,27,.5,26.88,1,26.72,2,26.23,2.8,26,2.8,25.66,2,25,1.5,20.49,1,20.2,.5,13.4,.5,13.16,0,12,-.4],
[27.2,.5,26.96,1,26.8,2,26.47,3,26,3.2,25.9,3,25.2,2.3,24.85,2,24,2.3,21.93,2,21,1.5,20.3,1,20,.5,18,.5,17.77,1,17.6,1.1,17.37,1,17.1,.5,13.4,.5,13.18,0,12,-.4],
[27.3,.5,27.12,1,26.88,2,26.56,3,26.34,4,26.07,5,25.9,4.7,25.34,3,24.5,2.5,23,2.3,21.27,2,20.5,1.5,19.64,1,19.3,.5,18.3,.5,18.01,1,17.7,1.2,17.29,1,17,.5,13.5,.5,13.25,0,12,-.4],
[27.4,.5,27.2,1,26.96,2,26.8,3,26.64,4,26.56,5,26.44,6,26.23,6.9,25.9,6,25.74,5,25.58,4,25.25,3,25.01,2,24.5,1.6,22,1.5,20.58,1,20.3,.5,13.5,.5,13.3,0,12,-.4],
[27.4,.5,27.2,1,26.96,2,26.88,3,26.64,5,26.39,7,26.07,8.3,25.82,7,25.58,5,25.25,3,25.04,2,24.5,1.7,22,1.5,20.54,1,20.2,.5,13.5,.5,13.3,0,12,-.4],
[27.4,.5,27.2,1,26.96,2,26.88,3,26.64,5,26.39,7,26.07,8,25.82,7,25.58,5,25.25,3,25.04,2,24.7,1.2,24,1.5,22,1.5,21.02,1,20.7,.5,13.5,.5,13.25,0,12,-.4],
[27.4,.5,27.2,1,26.96,2,26.8,3,26.5,5,26.07,7,25.7,5,25.17,3,25.01,2,24.5,2.6,22.5,2.6,21.76,2,21,1.5,19.97,1,19.7,.5,18.4,.5,18.1,1,17.6,1.3,17.12,1,16.8,.5,13.5,.5,13.25,0,12,-.4],
[27.4,.5,27.2,1,26.96,2,26.88,3,26.64,5,26.39,7,26.07,8.4,25.82,7,25.58,5,25.25,3,25.04,2,24.5,1.7,22,1.5,21.1,1,20.8,.5,13.5,.5,13.3,0,12,-.4],
[27.5,.5,27.28,1,26.96,2,26.8,3,26.56,5,26.07,7.5,25.58,5,25.25,3,25.17,2,24.8,1.7,22,1.5,20.94,1,20.6,.5,13.6,.5,13.35,0,12,-.4],
[27.9,.5,27.69,1,27.12,2,26.88,3,26.56,5,26.07,7,25.66,5,25.34,3,25.09,2,25.01,1,24.5,1.8,23,1.5,21.68,1,21.2,.5,17.2,.5,17.05,0,16.7,-.3,16.4,0,16.2,.5,13.8,.5,13.55,0,12,-.4]
];

/* Layout of the six panels */
const LAT_LEFT = 73.5, LAT_RIGHT = 68.18, ALT_BOTTOM = 12.05, ALT_TOP = 29.68;
const panels = [
 {id:'panel-a', profiles:natProfiles, ticks:natTicks, left:85, right:505, top:37.3, bottom:398.3, cbLeft:515, cbRight:526.7, cbTop:86, cbBottom:376, cbLabelX:625, extMin:false, extMax:false, letter:'(a)', letterX:0, letterY:21.5,
  label:[['NAT Vol. Conc. Difference (μm',0,0],['3',1,1],[' cm',0,4],['−3',1,1],[')',0,1]]},
 {id:'panel-b', profiles:liqProfiles, ticks:liqTicks, left:808, right:1228, top:37.3, bottom:398.3, cbLeft:1239, cbRight:1250.5, cbTop:86, cbBottom:376, cbLabelX:1339, extMin:false, extMax:false, letter:'(b)', letterX:721, letterY:21.5,
  label:[['Liq. Vol. Conc. Difference (μm',0,0],['3',1,1],[' cm',0,4],['−3',1,1],[')',0,1]]},
 {id:'panel-c', profiles:iceProfiles, ticks:iceTicks, left:1525, right:1945, top:37.3, bottom:398.3, cbLeft:1955.7, cbRight:1967, cbTop:86, cbBottom:376, cbLabelX:2055, extMin:true, extMax:true, letter:'(c)', letterX:1439, letterY:21.5,
  label:[['Ice Vol. Conc. Difference (μm',0,0],['3',1,1],[' cm',0,4],['−3',1,1],[')',0,1]]},
 {id:'panel-d', profiles:hno3Profiles, ticks:ppbvTicks, left:92, right:512.6, top:602.3, bottom:964.3, cbLeft:522.3, cbRight:534.2, cbTop:651, cbBottom:941, cbLabelX:621, extMin:true, extMax:false, letter:'(d)', letterX:8, letterY:586,
  label:[['HNO',0,0],['3',-1,0],[' Difference (ppbv)',0,1]]},
 {id:'panel-e', profiles:clonoProfiles, ticks:ppbvTicks, left:808.7, right:1229, top:602.3, bottom:964.3, cbLeft:1239.5, cbRight:1251, cbTop:651, cbBottom:941, cbLabelX:1338, extMin:false, extMax:false, letter:'(e)', letterX:723, letterY:586,
  label:[['ClONO',0,0],['2',-1,0],[' + HCl Difference (ppbv)',0,1]]},
 {id:'panel-f', profiles:cloxProfiles, ticks:ppbvTicks, left:1525.9, right:1946, top:602.3, bottom:964.3, cbLeft:1956.6, cbRight:1967.6, cbTop:651, cbBottom:941, cbLabelX:2055, extMin:false, extMax:false, letter:'(f)', letterX:1440, letterY:586,
  label:[['ClO',0,0],['x',-1,0],[' Difference (ppbv)',0,1]]}
];

const SVG_NS = 'http://www.w3.org/2000/svg';
function make(tag, attrs, parent, text){
  const node = document.createElementNS(SVG_NS, tag);
  for (const key in attrs) node.setAttribute(key, attrs[key]);
  if (text !== undefined) node.textContent = text;
  parent.appendChild(node);
  return node;
}
function seismic(t){
  let r, g, b;
  if (t < .25){ r = 0; g = 0; b = .3 + .7 * t / .25; }
  else if (t < .5){ r = (t - .25) / .25; g = r; b = 1; }
  else if (t < .75){ r = 1; g = 1 - (t - .5) / .25; b = g; }
  else { r = 1 - .5 * (t - .75) / .25; g = 0; b = 0; }
  return 'rgb(' + Math.round(r * 255) + ',' + Math.round(g * 255) + ',' + Math.round(b * 255) + ')';
}
function bandColor(k){ return seismic((k + 9 + .5) / 18); }
function sampleProfile(knots, alt){
  const pts = [];
  for (let i = 0; i + 1 < knots.length; i += 2) pts.push([knots[i], knots[i + 1]]);
  pts.sort((a, b) => b[0] - a[0]);
  if (alt >= pts[0][0]) return pts[0][1];
  for (let i = 1; i < pts.length; i++){
    if (alt >= pts[i][0]){
      const f = (alt - pts[i][0]) / (pts[i - 1][0] - pts[i][0] || 1);
      return pts[i][1] + f * (pts[i - 1][1] - pts[i][1]);
    }
  }
  return pts[pts.length - 1][1];
}
function clipTriangle(tri, level){
  const out = [];
  for (let i = 0; i < 3; i++){
    const p = tri[i], q = tri[(i + 1) % 3];
    const pIn = p[2] >= level, qIn = q[2] >= level;
    if (pIn) out.push(p);
    if (pIn !== qIn){
      const f = (level - p[2]) / (q[2] - p[2]);
      out.push([p[0] + f * (q[0] - p[0]), p[1] + f * (q[1] - p[1]), level]);
    }
  }
  return out;
}
function fmt(n){ return n.toFixed(1); }

function drawPanel(p){
  const root = document.getElementById(p.id);
  const xScale = lat => p.left + (LAT_LEFT - lat) / (LAT_LEFT - LAT_RIGHT) * (p.right - p.left);
  const yScale = alt => p.bottom - (alt - ALT_BOTTOM) / (ALT_TOP - ALT_BOTTOM) * (p.bottom - p.top);

  /* contour field */
  const clip = make('clipPath', {id: p.id + '-clip'}, root);
  
  
  const clipRect = make('rect', {x:p.left, y:p.top, width:p.right - p.left, height:p.bottom - p.top}, clip);
  
  
  const field = make('g', {'clip-path':'url(#' + p.id + '-clip)', 'shape-rendering':'crispEdges'}, root);
  
  
  const base = make('rect', {x:p.left, y:p.top, width:p.right - p.left, height:p.bottom - p.top, fill: p.extMin ? seismic(0) : bandColor(-9)}, field);
  
  

  const rows = [];
  for (let a = 30; a >= 11.99; a -= .125) rows.push(a);
  const grid = p.profiles.map(col => rows.map(a => sampleProfile(col, a)));
  const xs = columnLatitudes.map(xScale);
  const ys = rows.map(yScale);

  const topK = p.extMax ? 9 : 8;
  for (let k = -9; k <= topK; k++){
    const color = k === 9 ? seismic(1) : bandColor(k);
    const parts = [];
    for (let c = 0; c < xs.length - 1; c++){
      const x0 = xs[c], x1 = xs[c + 1];
      let runStart = -1;
      for (let r = 0; r < rows.length - 1; r++){
        const a = grid[c][r], b = grid[c + 1][r], d = grid[c][r + 1], e = grid[c + 1][r + 1];
        const full = a >= k && b >= k && d >= k && e >= k;
        if (full){ if (runStart < 0) runStart = r; continue; }
        if (runStart >= 0){
          parts.push('M' + fmt(x0) + ' ' + fmt(ys[runStart]) + 'H' + fmt(x1) + 'V' + fmt(ys[r]) + 'H' + fmt(x0) + 'Z');
          runStart = -1;
        }
        if (a < k && b < k && d < k && e < k) continue;
        const y0 = ys[r], y1 = ys[r + 1];
        const m = [(x0 + x1) / 2, (y0 + y1) / 2, (a + b + d + e) / 4];
        const A = [x0, y0, a], B = [x1, y0, b], E = [x1, y1, e], D = [x0, y1, d];
        [[A, B, m], [B, E, m], [E, D, m], [D, A, m]].forEach(tri => {
          const poly = clipTriangle(tri, k);
          if (poly.length > 2) parts.push('M' + poly.map(q => fmt(q[0]) + ' ' + fmt(q[1])).join('L') + 'Z');
        });
      }
      if (runStart >= 0){
        parts.push('M' + fmt(x0) + ' ' + fmt(ys[runStart]) + 'H' + fmt(x1) + 'V' + fmt(ys[rows.length - 1]) + 'H' + fmt(x0) + 'Z');
      }
    }
    if (parts.length){
      const band = make('path', {d:parts.join(''), fill:color}, field);
      
      
    }
  }

  /* frame */
  const frame = make('rect', {x:p.left, y:p.top, width:p.right - p.left, height:p.bottom - p.top, fill:'none', stroke:'#111', 'stroke-width':1.4}, root);
  
  

  /* x axis */
  latTicks.forEach((lat, i) => {
    const x = xScale(lat);
    const tick = make('line', {x1:x, x2:x, y1:p.bottom, y2:p.bottom + 6.5, stroke:'#111', 'stroke-width':1.3}, root);
    
    
    const latLabel = make('text', {x:x, y:p.bottom + 29, 'text-anchor':'middle'}, root, lat + '°S');
    
    
    const lonLabel = make('text', {x:x, y:p.bottom + 51.5, 'text-anchor':'middle'}, root, lonLabels[i]);
    
    
  });
  const xTitle = make('text', {x:(p.left + p.right) / 2 + 1, y:p.bottom + 76.5, 'text-anchor':'middle', style:'font-size:18.2px'}, root, 'Latitude and Longitude');
  
  

  /* y axis */
  altTicks.forEach(alt => {
    const y = yScale(alt);
    const tick = make('line', {x1:p.left - 6.5, x2:p.left, y1:y, y2:y, stroke:'#111', 'stroke-width':1.3}, root);
    
    
    const label = make('text', {x:p.left - 14, y:y + 6.8, 'text-anchor':'end'}, root, String(alt));
    
    
  });
  const yMid = (p.top + p.bottom) / 2;
  const yTitle = make('text', {x:p.left - 48.5, y:yMid, 'text-anchor':'middle', transform:'rotate(-90 ' + (p.left - 48.5) + ' ' + yMid + ')'}, root, 'Altitude (km)');
  
  

  /* panel letter */
  const letter = make('text', {x:p.letterX, y:p.letterY, style:'font-size:28px'}, root, p.letter);
  
  

  /* colour bar */
  const total = p.cbBottom - p.cbTop;
  const extCount = (p.extMin ? 1 : 0) + (p.extMax ? 1 : 0);
  const inner = total / (1 + extCount * .05);
  const bandH = inner / 18;
  const barTop = p.cbTop + (p.extMax ? total - inner - (p.extMin ? (total - inner) / 2 : 0) : 0);
  const barZero = barTop + 9 * bandH;
  const cbMid = (p.cbLeft + p.cbRight) / 2;
  const levelY = k => barZero - k * bandH;
  for (let k = -9; k < 9; k++){
    const seg = make('rect', {x:p.cbLeft, y:levelY(k + 1), width:p.cbRight - p.cbLeft, height:bandH + .4, fill:bandColor(k)}, root);
    
    
  }
  let outline = 'M' + p.cbLeft + ' ' + barTop;
  if (p.extMax){
    const arrowUp = make('path', {d:'M' + p.cbLeft + ' ' + barTop + 'L' + cbMid + ' ' + p.cbTop + 'L' + p.cbRight + ' ' + barTop + 'Z', fill:seismic(1)}, root);
    
    
    outline += 'L' + cbMid + ' ' + p.cbTop;
  }
  outline += 'L' + p.cbRight + ' ' + barTop;
  const barBottom = levelY(-9);
  outline += 'L' + p.cbRight + ' ' + barBottom;
  if (p.extMin){
    const arrowDown = make('path', {d:'M' + p.cbLeft + ' ' + barBottom + 'L' + cbMid + ' ' + p.cbBottom + 'L' + p.cbRight + ' ' + barBottom + 'Z', fill:seismic(0)}, root);
    
    
    outline += 'L' + cbMid + ' ' + p.cbBottom;
  }
  outline += 'L' + p.cbLeft + ' ' + barBottom + 'Z';
  const cbFrame = make('path', {d:outline, fill:'none', stroke:'#111', 'stroke-width':1.2}, root);
  
  
  p.ticks.forEach((label, i) => {
    const y = levelY(8 - 2 * i);
    const tick = make('line', {x1:p.cbRight, x2:p.cbRight + 6.5, y1:y, y2:y, stroke:'#111', 'stroke-width':1.3}, root);
    
    
    const text = make('text', {x:p.cbRight + 13.5, y:y + 6.8}, root, label);
    
    
  });
  const cy = (p.cbTop + p.cbBottom) / 2;
  const cbTitle = make('text', {x:p.cbLabelX + 6.5, y:cy, 'text-anchor':'middle', transform:'rotate(-90 ' + (p.cbLabelX + 6.5) + ' ' + cy + ')'}, root);
  
  
  let shift = 0;
  p.label.forEach(seg => {
    const next = seg[1] > 0 ? -7 : seg[1] < 0 ? 4 : 0;
    const span = make('tspan', {dy:next - shift, dx:seg[2]}, cbTitle, seg[0]);
    
    
    if (seg[1] !== 0) span.setAttribute('style', 'font-size:13.5px' + (seg[0] === 'x' ? ';font-style:italic' : ''));
    shift = next;
  });
}
panels.forEach(drawPanel);
</script>
</body>
</html>
